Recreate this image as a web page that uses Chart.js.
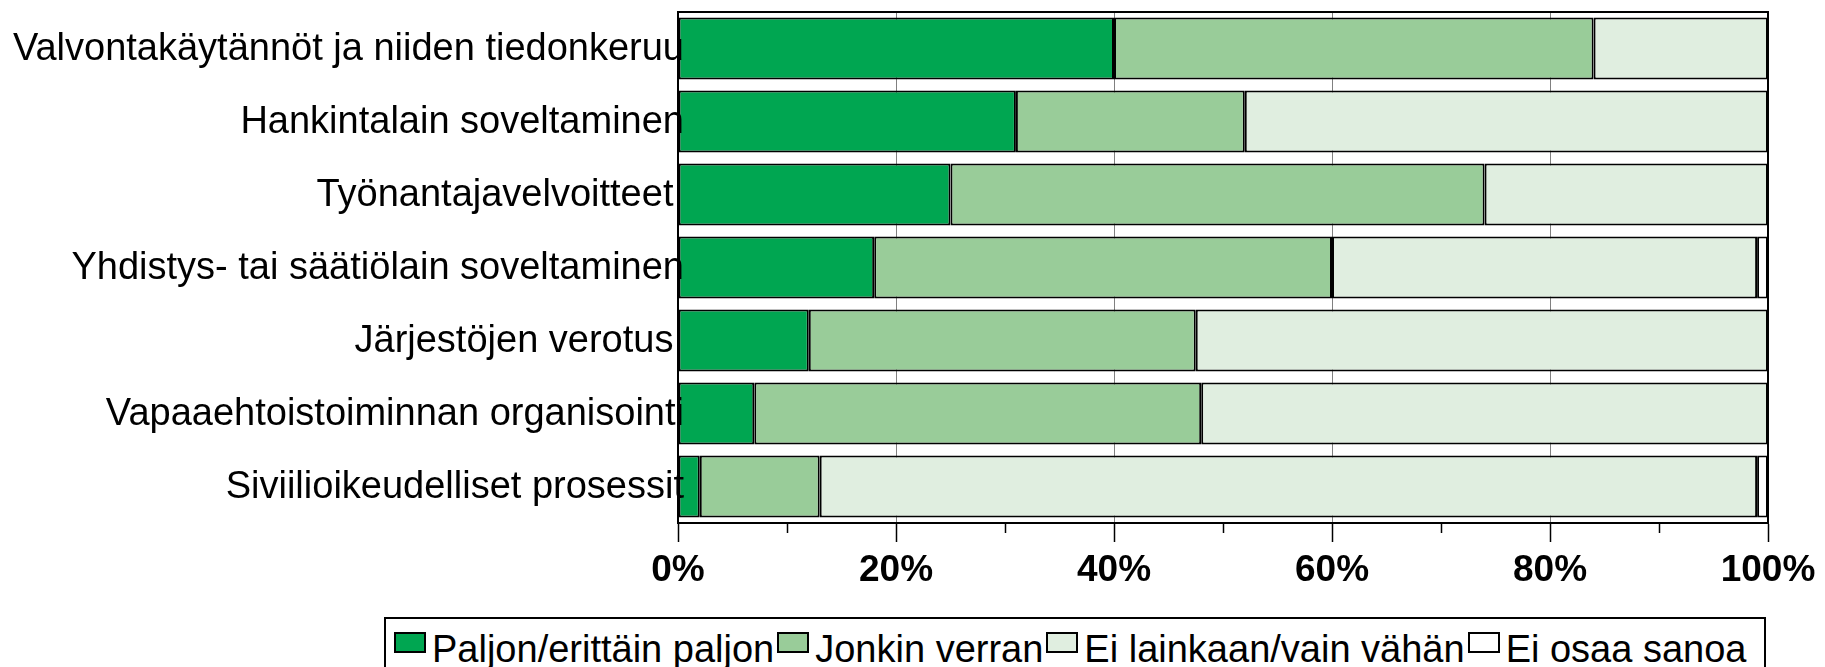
<!DOCTYPE html>
<html>
<head>
<meta charset="utf-8">
<script src="https://cdn.jsdelivr.net/npm/chart.js@4.4.1/dist/chart.umd.min.js"></script>
<style>
    html, body { margin: 0; padding: 0; background: #fff; overflow: hidden; }
    #wrap { position: relative; width: 1825px; height: 667px; }
    #legend {
        position: absolute; left: 384px; top: 617px; width: 1382px; height: 70px;
        box-sizing: border-box; border: 2px solid #000; background: #fff;
        display: flex; align-items: flex-start; padding: 11px 0 0 8px;
        font-family: "Liberation Sans", Arial, sans-serif; font-size: 38px; line-height: 38px; color: #000;
        white-space: nowrap;
    }
    .legend-item { display: flex; align-items: flex-start; margin-right: 3px; }
    .legend-box { width: 32px; height: 21px; box-sizing: border-box; border: 2px solid #000; margin: 2px 6px 0 0; }
</style>
</head>
<body>
<div id="wrap">
    <canvas id="chart"></canvas>
    <div id="legend"></div>
</div>
<script>
const categories = [
    'Valvontakäytännöt ja niiden tiedonkeruu',
    'Hankintalain soveltaminen',
    'Työnantajavelvoitteet ',
    'Yhdistys- tai säätiölain soveltaminen',
    'Järjestöjen verotus ',
    'Vapaaehtoistoiminnan organisointi',
    'Siviilioikeudelliset prosessit'
];
const seriesLabels = ['Paljon/erittäin paljon', 'Jonkin verran', 'Ei lainkaan/vain vähän', 'Ei osaa sanoa'];
const paljon = [40, 31, 25, 18, 12, 7, 2];
const jonkin = [44, 21, 49, 42, 35.5, 41, 11];
const eiLainkaan = [16, 48, 26, 39, 52.5, 52, 86];
const eiOsaa = [0, 0, 0, 1, 0, 0, 1];
const seriesColors = ['#00A651', '#99CC99', '#E0EEE0', '#FFFFFF'];
const xMax = 100;
const xMinorStep = 10;
const xLabelStep = 20;

const FONT = '"Liberation Sans", Arial, sans-serif';

// frame round the plot area, short minor ticks, and the category labels
// (drawn here so the last letters can run over the bars like in the original)
const framePlugin = {
    id: 'frame',
    afterDatasetsDraw(chart) {
        const { ctx, chartArea: a } = chart;
        const x = chart.scales.x;
        const y = chart.scales.y;
        ctx.save();
        ctx.strokeStyle = '#000';
        ctx.lineWidth = 2;
        ctx.strokeRect(a.left, a.top, a.right - a.left, a.bottom - a.top);
        ctx.lineWidth = 1.5;
        for (let v = xMinorStep; v < xMax; v += xLabelStep) {
            const px = Math.round(x.getPixelForValue(v)) + 0.5;
            ctx.beginPath();
            ctx.moveTo(px, a.bottom);
            ctx.lineTo(px, a.bottom + 10);
            ctx.stroke();
        }
        ctx.fillStyle = '#000';
        ctx.font = '38px ' + FONT;
        ctx.textAlign = 'right';
        ctx.textBaseline = 'middle';
        categories.forEach((label, i) => {
            ctx.fillText(label, a.left + 6, y.getPixelForValue(i) + 1);
        });
        ctx.restore();
    }
};

function makeDataset(label, data, color) {
    return {
        label: label,
        data: data,
        backgroundColor: color,
        borderColor: '#000',
        borderWidth: 2,
        borderSkipped: false,
        barPercentage: 0.85,
        categoryPercentage: 1
    };
}

const datasets = [
    makeDataset(seriesLabels[0], paljon, seriesColors[0]),
    makeDataset(seriesLabels[1], jonkin, seriesColors[1]),
    makeDataset(seriesLabels[2], eiLainkaan, seriesColors[2]),
    makeDataset(seriesLabels[3], eiOsaa, seriesColors[3])
];

const ctx = document.getElementById('chart').getContext('2d');
new Chart(ctx, {
    type: 'bar',
    data: { labels: categories, datasets: datasets },
    options: {
        indexAxis: 'y',
        responsive: true,
        maintainAspectRatio: false,
        animation: false,
        layout: { padding: { top: 12, right: 57, left: 0, bottom: 0 } },
        plugins: {
            legend: { display: false },
            tooltip: { enabled: false }
        },
        scales: {
            x: {
                stacked: true,
                min: 0,
                max: xMax,
                afterFit: (scale) => { scale.height = 144; },
                ticks: {
                    stepSize: xMinorStep,
                    autoSkip: false,
                    maxRotation: 0,
                    padding: 7,
                    color: '#000',
                    font: { family: FONT, size: 37, weight: 'bold' },
                    callback: (v) => (v % xLabelStep === 0 ? v + '%' : '')
                },
                grid: {
                    drawTicks: true,
                    tickLength: 19,
                    tickWidth: 1.5,
                    lineWidth: 1,
                    color: (c) => (c.tick && c.tick.value % xLabelStep === 0 && c.tick.value > 0 && c.tick.value < xMax ? '#808080' : 'rgba(0,0,0,0)'),
                    tickColor: (c) => (c.tick && c.tick.value % xLabelStep === 0 ? '#000' : 'rgba(0,0,0,0)')
                },
                border: { display: true, color: '#000', width: 2 }
            },
            y: {
                stacked: true,
                afterFit: (scale) => { scale.width = 678; },
                ticks: { display: false },
                grid: { display: false, drawTicks: false },
                border: { display: true, color: '#000', width: 2 }
            }
        }
    },
    plugins: [framePlugin]
});

// legend built from the datasets
document.getElementById('legend').innerHTML = datasets.map(d => `
    <div class="legend-item">
        <span class="legend-box" style="background:${d.backgroundColor}"></span>
        <span>${d.label}</span>
    </div>
`).join('');
</script>
</body>
</html>
